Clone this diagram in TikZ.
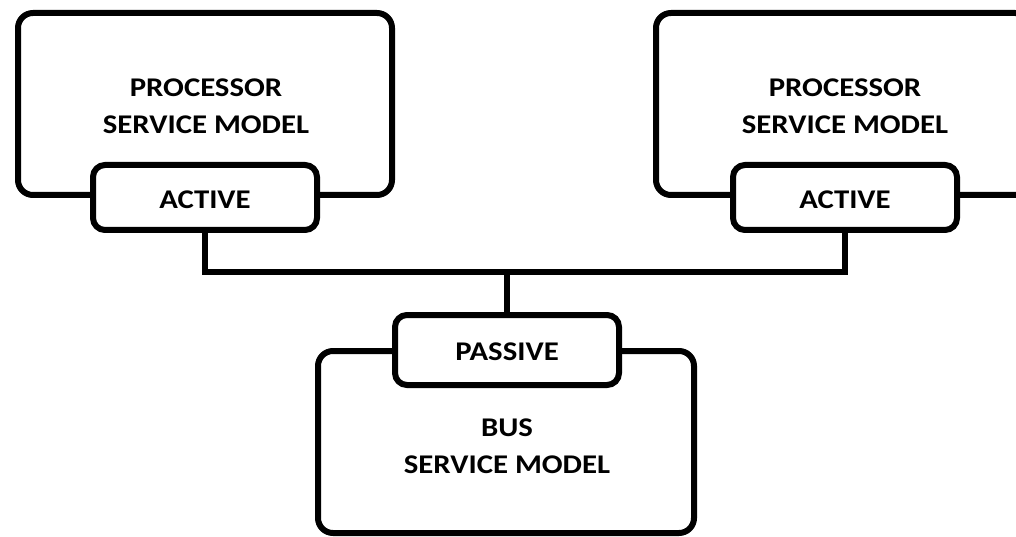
\documentclass[tikz,border=0pt]{standalone}
\usepackage{fontspec}
\setmainfont{Carlito}[FakeStretch=1.14]
\begin{document}
\begin{tikzpicture}[x=1pt,y=-1pt,
  caption/.style={inner sep=0pt, align=center,
    font=\bfseries\fontsize{27}{37}\selectfont},
  model/.style={draw, line width=6pt, rounded corners=15pt, fill=white,
    inner sep=0pt},
  port/.style={draw, line width=6pt, rounded corners=12pt, fill=white,
    inner sep=0pt},
  wire/.style={line width=6pt}]
\useasboundingbox (0,0) rectangle (1016,537);
\clip (0,0) rectangle (1016,537);

% service models
\node[model, minimum width=374pt, minimum height=182pt] (proc1) at (205,104) {};
\node[model, minimum width=374pt, minimum height=182pt] (proc2) at (843,104) {};
\node[model, minimum width=376pt, minimum height=182pt] (bus) at (506,442) {};
\node[caption] (proc1text) at (206,106) {PROCESSOR\\SERVICE MODEL};
\node[caption] (proc2text) at (845,106) {PROCESSOR\\SERVICE MODEL};
\node[caption] (bustext) at (507,446) {BUS\\SERVICE MODEL};

% ports
\node[port, minimum width=224pt, minimum height=65pt] (act1) at (205,197.5) {};
\node[port, minimum width=224pt, minimum height=65pt] (act2) at (845,197.5) {};
\node[port, minimum width=224pt, minimum height=70pt] (pas) at (507,350) {};
\node[caption] (act1text) at (205,199.5) {ACTIVE};
\node[caption] (act2text) at (845,199.5) {ACTIVE};
\node[caption] (pastext) at (507,351.5) {PASSIVE};

% interconnect
\coordinate (j) at (507,272);
\draw[wire] (act1.south) |- (j) -| (act2.south);
\draw[wire] (j) -- (pas.north);
\end{tikzpicture}
\end{document}
